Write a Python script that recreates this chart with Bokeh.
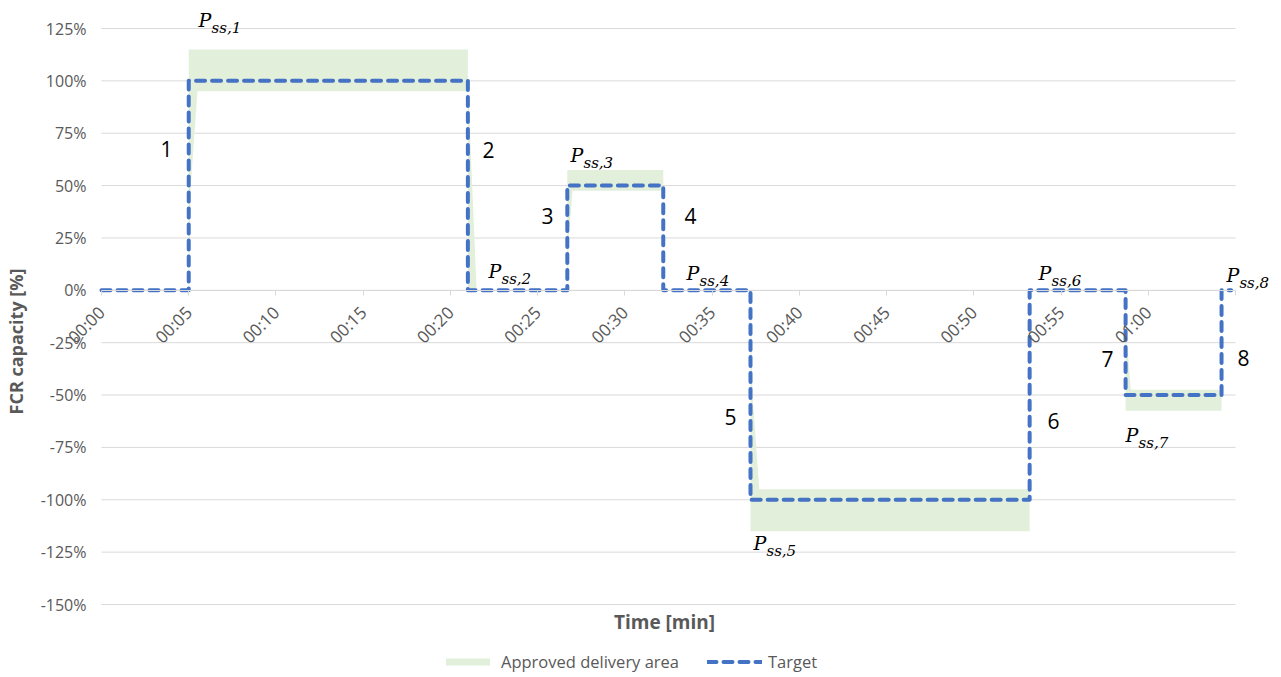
import math
from bokeh.plotting import figure
from bokeh.models import (ColumnDataSource, FixedTicker, Legend,
                          LegendItem, LabelSet, Label, Range1d)
from bokeh.core.properties import value
from bokeh.embed import file_html
from bokeh.resources import INLINE

# ---------------- data ----------------
x_tick_minutes = [0, 5, 10, 15, 20, 25, 30, 35, 40, 45, 50, 55, 60, 65]
x_tick_labels = ["00:00", "00:05", "00:10", "00:15", "00:20", "00:25", "00:30",
                 "00:35", "00:40", "00:45", "00:50", "00:55", "01:00", ""]
y_ticks = [-150, -125, -100, -75, -50, -25, 0, 25, 50, 75, 100, 125]
y_tick_labels = ["-150%", "-125%", "-100%", "-75%", "-50%", "-25%", "0%",
                 "25%", "50%", "75%", "100%", "125%"]

# Target (step changes: time in minutes, level in %)
target_time = [0, 5, 21, 26.7, 32.2, 37.2, 53.2, 58.7, 64.2, 64.75]
target_level = [0, 100, 0, 50, 0, -100, 0, -50, 0, 0]

# Approved delivery area (lower / upper bound)
band_time = [0, 5, 5, 5.12, 5.5, 21, 21, 21.2, 21.5, 26.7,
             26.7, 26.78, 27.0, 32.2, 32.2, 37.2,
             37.2, 37.32, 37.7, 53.2, 53.2, 58.7,
             58.7, 58.78, 59.0, 64.2, 64.2, 65]
band_lower = [0, 0, 0, 50, 95, 95, 0, 0, 0, 0,
              0, 25, 47.5, 47.5, 0, 0,
              -115, -115, -115, -115, 0, 0,
              -57.5, -57.5, -57.5, -57.5, 0, 0]
band_upper = [0, 0, 115, 115, 115, 115, 100, 60, 0, 0,
              57.5, 57.5, 57.5, 57.5, 0, 0,
              0, -50, -95, -95, 0, 0,
              0, -25, -47.5, -47.5, 0, 0]

# Step numbers
num_text = ["1", "2", "3", "4", "5", "6", "7", "8"]
num_x = [3.73, 22.18, 25.56, 33.76, 36.05, 54.57, 57.66, 65.46]
num_y = [67.7, 67.0, 35.7, 35.7, -60.7, -62.6, -33.0, -32.1]

# P_ss labels
pss_main = ["P"] * 8
pss_sub = ["ss,1", "ss,2", "ss,3", "ss,4", "ss,5", "ss,6", "ss,7", "ss,8"]
pss_x = [5.56, 22.18, 26.88, 33.53, 37.37, 53.71, 58.70, 64.48]
pss_y = [125.9, 6.1, 61.5, 4.7, -123.8, 4.7, -72.2, 4.2]

x_title = "Time [min]"
y_title = "FCR capacity [%]"

# ---------------- geometry ----------------
GRAY = "#595959"
GRID = "#D9D9D9"
FONT = "Open Sans"

X0, X1 = x_tick_minutes[0], x_tick_minutes[-1]
Y0, Y1 = y_ticks[0], y_ticks[-1]
PLOT_W = 1134            # px between first and last x tick
PLOT_H = 576             # px between lowest and highest y tick
EXTRA_L, EXTRA_R, EXTRA_T, EXTRA_B = 35, 38, 20, 70   # frame room for texts
px_x = PLOT_W / (X1 - X0)
px_y = PLOT_H / (Y1 - Y0)

p = figure(frame_width=PLOT_W + EXTRA_L + EXTRA_R,
           frame_height=PLOT_H + EXTRA_T + EXTRA_B,
           output_backend="svg", toolbar_location=None,
           x_range=Range1d(X0 - EXTRA_L / px_x, X1 + EXTRA_R / px_x),
           y_range=Range1d(Y0 - EXTRA_B / px_y, Y1 + EXTRA_T / px_y),
           min_border_left=58, min_border_right=0, min_border_top=8,
           min_border_bottom=0)
p.outline_line_color = None
p.background_fill_color = "white"
p.border_fill_color = "white"

# horizontal grid lines limited to the plotted time span
grid_src = ColumnDataSource(dict(y=y_ticks, x0=[X0] * len(y_ticks), x1=[X1] * len(y_ticks)))
p.segment(x0="x0", x1="x1", y0="y", y1="y", source=grid_src,
          line_color=GRID, line_width=1)
p.xgrid.grid_line_color = None
p.ygrid.grid_line_color = None

band_src = ColumnDataSource(dict(t=band_time, lo=band_lower, hi=band_upper))
band_r = p.varea(x="t", y1="lo", y2="hi", source=band_src,
                 fill_color="#E2EFDA", fill_alpha=1.0)

tgt_src = ColumnDataSource(dict(t=target_time, v=target_level))
tgt_r = p.step(x="t", y="v", source=tgt_src, mode="after",
               line_color="#4472C4", line_width=4, line_dash="9 7",
               line_cap="round", line_join="round")

# y axis
ya = p.yaxis[0]
ya.ticker = FixedTicker(ticks=y_ticks)
ya.major_label_overrides = {v: s for v, s in zip(y_ticks, y_tick_labels)}
ya.axis_line_color = None
ya.major_tick_line_color = None
ya.minor_tick_line_color = None
ya.major_tick_in = 0
ya.major_tick_out = 0
ya.major_label_text_font = FONT
ya.major_label_text_font_size = "16px"
ya.major_label_text_color = GRAY
ya.major_label_standoff = -20
ya.axis_label = y_title
ya.axis_label_text_font = FONT
ya.axis_label_text_font_style = "bold"
ya.axis_label_text_font_size = "18px"
ya.axis_label_text_color = GRAY
ya.axis_label_standoff = 10

# x axis at 0
xa = p.xaxis[0]
xa.fixed_location = 0
xa.bounds = (X0, X1)
xa.ticker = FixedTicker(ticks=x_tick_minutes)
xa.major_label_overrides = {v: s for v, s in zip(x_tick_minutes, x_tick_labels)}
xa.major_label_orientation = math.pi / 4
xa.axis_line_color = GRID
xa.major_tick_line_color = GRID
xa.major_tick_in = 0
xa.major_tick_out = 5
xa.minor_tick_line_color = None
xa.major_label_text_font = FONT
xa.major_label_text_font_size = "17px"
xa.major_label_text_color = GRAY
xa.major_label_standoff = 14

# x title below the plotting area
p.add_layout(Label(x=(X0 + X1) / 2, y=Y0, y_offset=-17, x_offset=-4, text=x_title,
                   text_font=FONT, text_font_style="bold", text_font_size="19px",
                   text_color=GRAY, text_align="center", text_baseline="middle"))

# legend
legend = Legend(items=[LegendItem(label="Approved delivery area", renderers=[band_r]),
                       LegendItem(label="Target", renderers=[tgt_r])],
                orientation="horizontal", location=(374, 1),
                label_text_font=FONT, label_text_font_size="16.5px",
                label_text_color=GRAY, glyph_width=55, glyph_height=9,
                label_standoff=6, spacing=28, border_line_color=None,
                background_fill_alpha=0, margin=0, padding=0)
p.add_layout(legend)

# numbers
num_src = ColumnDataSource(dict(x=num_x, y=num_y, t=num_text))
p.add_layout(LabelSet(x="x", y="y", text="t", source=num_src,
                      text_font=value(FONT), text_font_size="21px", text_color="black",
                      text_align="center", text_baseline="middle"))

# P_ss labels
pss_src = ColumnDataSource(dict(x=pss_x, y=pss_y, m=pss_main, s=pss_sub))
p.add_layout(LabelSet(x="x", y="y", text="m", source=pss_src,
                      text_font=value("DejaVu Serif"), text_font_style="italic",
                      text_font_size="19px", text_color="black",
                      text_align="left", text_baseline="alphabetic"))
p.add_layout(LabelSet(x="x", y="y", text="s", source=pss_src,
                      x_offset=13, y_offset=-6,
                      text_font=value("DejaVu Serif"), text_font_style="italic",
                      text_font_size="15px", text_color="black",
                      text_align="left", text_baseline="alphabetic"))

open("out.html", "w").write(file_html(p, INLINE))
